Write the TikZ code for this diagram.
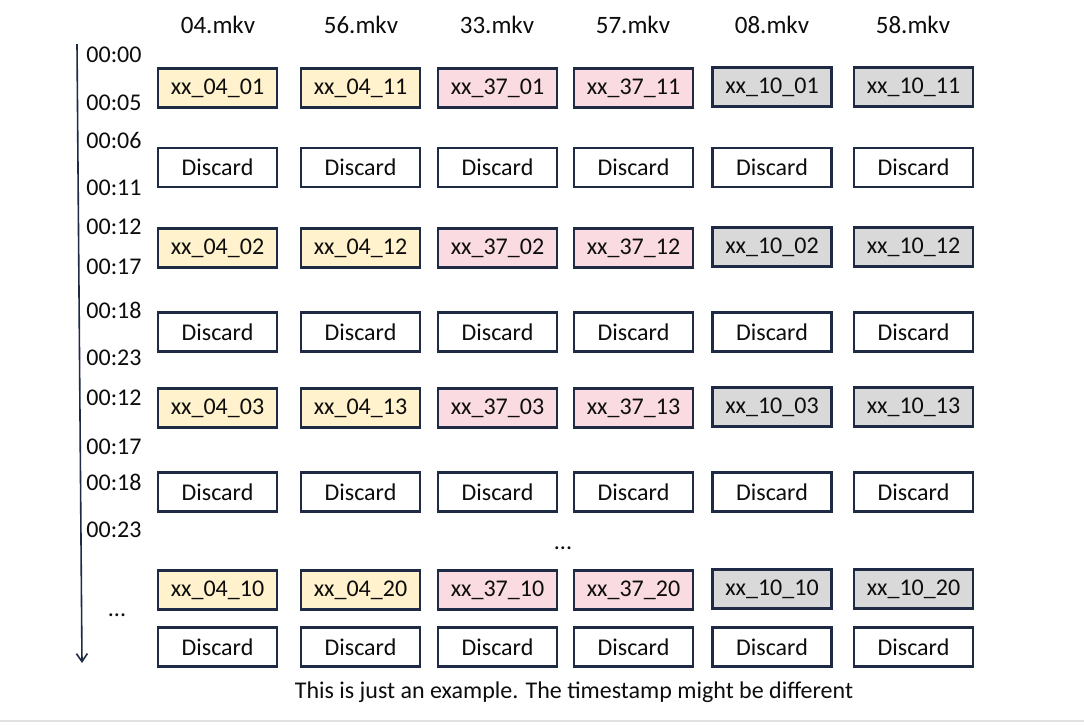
\documentclass[tikz,border=0pt]{standalone}
\usepackage{fontspec}
\setmainfont{Carlito}
\usetikzlibrary{arrows.meta}
\definecolor{navy}{HTML}{1F2A44}
\definecolor{yel}{HTML}{FFF2CC}
\definecolor{pnk}{HTML}{FADBE1}
\definecolor{gry}{HTML}{D9D9D9}
\definecolor{txt}{HTML}{0D0D0D}
\tikzset{
  cell/.style={draw=navy, line width=2.2pt, minimum width=119pt, minimum height=39pt, inner sep=0pt, font=\fontsize{24}{26}\selectfont, text=txt},
  lbl/.style={font=\fontsize{24}{26}\selectfont, text=txt, inner sep=0pt},
}
\begin{document}
\begin{tikzpicture}[x=1pt,y=-1pt]
\useasboundingbox (0,0) rectangle (1084,724);
\fill[white] (0,0) rectangle (1084,724);
\draw[gry!80!white, line width=2pt] (0,721) -- (1084,721);
% headers
\foreach \x/\t/\n in {218/04/h1,361/56/h2,497/33/h3,633/57/h4,772/08/h5,913/58/h6}
  \node[lbl, font=\fontsize{25}{27}\selectfont] (\n) at (\x,25) {\t.mkv};
% rows
\foreach \y/\r/\a in {89/1/01,249/2/02,409/3/03,591/4/10}{
  \pgfmathtruncatemacro{\b}{\a+10}
  \node[cell, fill=yel] (c1r\r) at (217.5,\y-1) {xx\_04\_\a};
  \node[cell, fill=yel] (c2r\r) at (360.5,\y-1) {xx\_04\_\b};
  \node[cell, fill=pnk] (c3r\r) at (497.5,\y-1) {xx\_37\_\a};
  \node[cell, fill=pnk] (c4r\r) at (633.5,\y-1) {xx\_37\_\b};
  \node[cell, fill=gry] (c5r\r) at (772,\y-2) {xx\_10\_\a};
  \node[cell, fill=gry] (c6r\r) at (913.5,\y-2) {xx\_10\_\b};
}
\foreach \y/\r in {167.5/1,332/2,492/3,647/4}{
  \foreach \x/\c in {217.5/1,360.5/2,497.5/3,633.5/4,772/5,913.5/6}
    \node[cell, fill=white] (d\c r\r) at (\x,\y) {Discard};
}
% time labels
\foreach \y/\t [count=\i] in {55/00:00,103/00:05,140/00:06,188/00:11,227/00:12,267/00:17,310/00:18,358/00:23,398/00:12,447/00:17,482/00:18,530/00:23}
  \node[lbl] (t\i) at (114,\y) {\t};
\node[lbl] (tdots) at (117,615) {...};
\node[lbl] (mdots) at (563,548) {...};
% arrow
\coordinate (atop) at (77,44);
\coordinate (abot) at (82,663);
\draw[navy, line width=1.6pt, -{Straight Barb[length=8pt,width=11pt]}] (atop) -- (abot);
% footer
\node[lbl] (foot) at (574,692) {This is just an example. The timestamp might be different};
\end{tikzpicture}
\end{document}
